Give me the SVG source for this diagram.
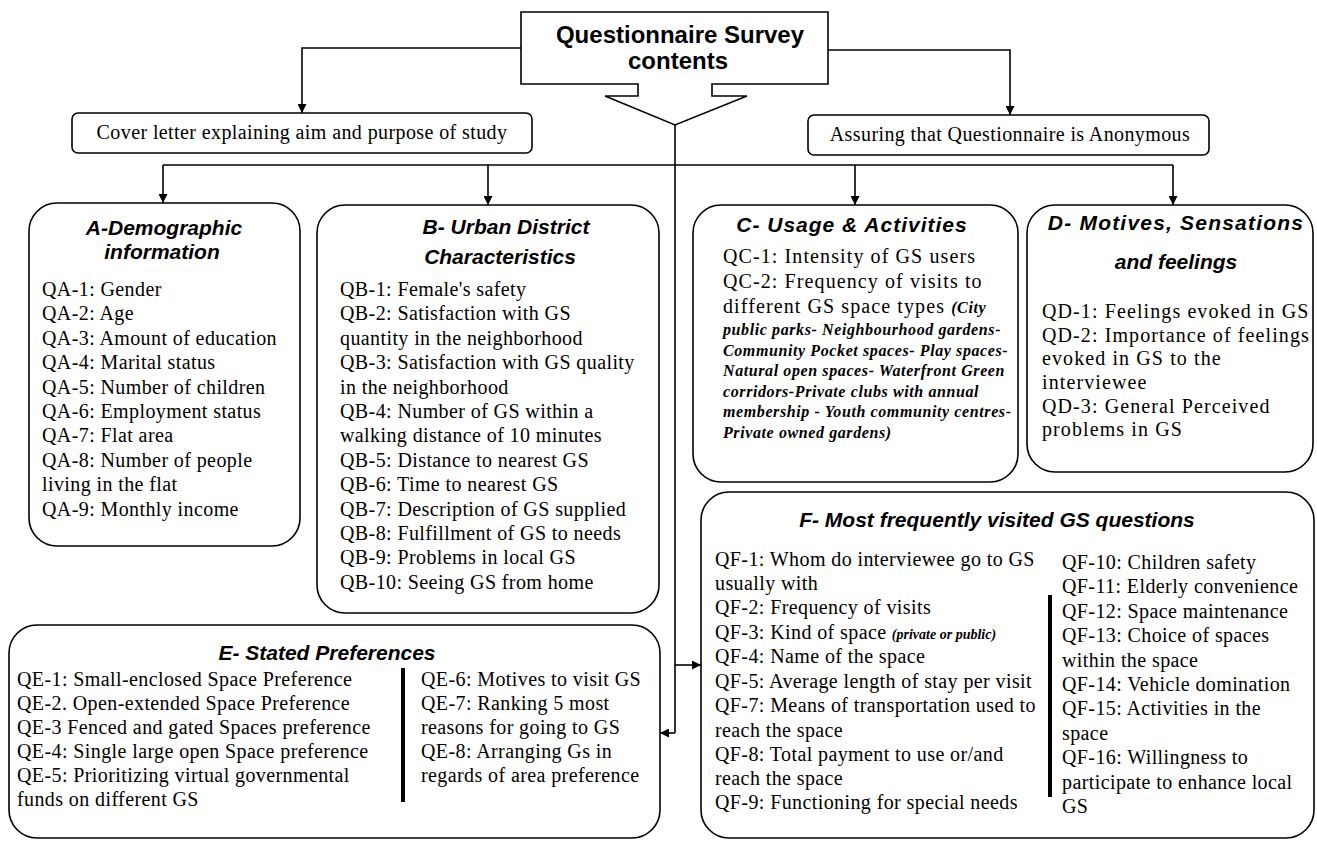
<svg xmlns="http://www.w3.org/2000/svg" width="1317" height="863" viewBox="0 0 1317 863">
  <defs>
    <marker id="arr" viewBox="0 0 10 10" refX="10" refY="5" markerWidth="9" markerHeight="9" markerUnits="userSpaceOnUse" orient="auto">
      <path d="M0,0 L10,5 L0,10 Z" fill="#000"/>
    </marker>
    <style>
      .box { fill: #fff; stroke: #000; stroke-width: 1.6; }
      .conn { fill: none; stroke: #000; stroke-width: 1.6; }
      .sep { stroke: #000; stroke-width: 4; }
      .head { font-family: "Liberation Sans", Arial, sans-serif; font-weight: bold; font-size: 24px; text-anchor: middle; }
      .ttl { font-family: "Liberation Sans", Arial, sans-serif; font-weight: bold; font-style: italic; font-size: 21px; text-anchor: middle; }
      .txt { font-family: "Liberation Serif", "Times New Roman", serif; font-size: 20px; letter-spacing: 0.4px; }
      .wide { letter-spacing: 1.1px; }
      .mid { text-anchor: middle; }
      .it { font-style: italic; font-weight: bold; font-size: 16px; letter-spacing: 0.6px; }
      .its { font-style: italic; font-weight: bold; font-size: 14px; letter-spacing: 0; }
    </style>
  </defs>
  <rect width="1317" height="863" fill="#fff"/>

  <!-- connectors -->
  <g id="connectors">
    <path class="conn" d="M521,48 H302 V113" marker-end="url(#arr)"/>
    <path class="conn" d="M828,50 H1010 V115" marker-end="url(#arr)"/>
    <path class="conn" d="M163,165 H1173"/>
    <path class="conn" d="M163,165 V203" marker-end="url(#arr)"/>
    <path class="conn" d="M488,165 V205" marker-end="url(#arr)"/>
    <path class="conn" d="M855,165 V205" marker-end="url(#arr)"/>
    <path class="conn" d="M1173,165 V205" marker-end="url(#arr)"/>
    <path class="conn" d="M675,125 V733"/>
    <path class="conn" d="M675,665 H701" marker-end="url(#arr)"/>
    <path class="conn" d="M675,733 H660" marker-end="url(#arr)"/>
  </g>

  <!-- root callout -->
  <g id="survey">
    <path class="box" d="M521,12 H828 V84 H712 V96 H747 L675,125 L605,96 H638 V84 H521 Z"/>
    <text class="head" x="680" y="43">Questionnaire Survey</text>
    <text class="head" x="678" y="69">contents</text>
  </g>

  <g id="cover">
    <rect class="box" x="72" y="113" width="460" height="40" rx="6"/>
    <text class="txt mid" x="302" y="139">Cover letter explaining aim and purpose of study</text>
  </g>

  <g id="anonymous">
    <rect class="box" x="808" y="115" width="401" height="40" rx="6"/>
    <text class="txt mid" x="1010" y="141">Assuring that Questionnaire is Anonymous</text>
  </g>

  <g id="A">
    <rect class="box" x="29" y="203" width="271" height="343" rx="28"/>
    <text class="ttl" x="164" y="235">A-Demographic</text>
    <text class="ttl" x="162" y="259">information</text>
    <text class="txt">
      <tspan x="42" y="296">QA-1: Gender</tspan>
      <tspan x="42" y="320.4">QA-2: Age</tspan>
      <tspan x="42" y="344.8">QA-3: Amount of education</tspan>
      <tspan x="42" y="369.2">QA-4: Marital status</tspan>
      <tspan x="42" y="393.6">QA-5: Number of children</tspan>
      <tspan x="42" y="418">QA-6: Employment status</tspan>
      <tspan x="42" y="442.4">QA-7: Flat area</tspan>
      <tspan x="42" y="466.8">QA-8: Number of people</tspan>
      <tspan x="42" y="491.2">living in the flat</tspan>
      <tspan x="42" y="515.6">QA-9: Monthly income</tspan>
    </text>
  </g>

  <g id="B">
    <rect class="box" x="317" y="205" width="342" height="408" rx="28"/>
    <text class="ttl" x="506" y="234">B- Urban District</text>
    <text class="ttl" x="500" y="264">Characteristics</text>
    <text class="txt">
      <tspan x="340" y="296">QB-1: Female's safety</tspan>
      <tspan x="340" y="320.4">QB-2: Satisfaction with GS</tspan>
      <tspan x="340" y="344.8">quantity in the neighborhood</tspan>
      <tspan x="340" y="369.2">QB-3: Satisfaction with GS quality</tspan>
      <tspan x="340" y="393.6">in the neighborhood</tspan>
      <tspan x="340" y="418">QB-4: Number of GS within a</tspan>
      <tspan x="340" y="442.4">walking distance of 10 minutes</tspan>
      <tspan x="340" y="466.8">QB-5: Distance to nearest GS</tspan>
      <tspan x="340" y="491.2">QB-6: Time to nearest GS</tspan>
      <tspan x="340" y="515.6">QB-7: Description of GS supplied</tspan>
      <tspan x="340" y="540">QB-8: Fulfillment of GS to needs</tspan>
      <tspan x="340" y="564.4">QB-9: Problems in local GS</tspan>
      <tspan x="340" y="588.8">QB-10: Seeing GS from home</tspan>
    </text>
  </g>

  <g id="C">
    <rect class="box" x="693" y="205" width="325" height="277" rx="28"/>
    <text class="ttl" x="852" y="232" letter-spacing="1">C- Usage &amp; Activities</text>
    <text class="txt wide">
      <tspan x="723" y="263">QC-1: Intensity of GS  users</tspan>
      <tspan x="723" y="288">QC-2: Frequency of visits to</tspan>
      <tspan x="723" y="313">different GS space types  <tspan class="it">(City</tspan></tspan>
    </text>
    <text class="txt it">
      <tspan x="723" y="335">public parks- Neighbourhood gardens-</tspan>
      <tspan x="723" y="355.5">Community Pocket spaces- Play spaces-</tspan>
      <tspan x="723" y="376">Natural open spaces- Waterfront Green</tspan>
      <tspan x="723" y="396.5">corridors-Private clubs with annual</tspan>
      <tspan x="723" y="417">membership - Youth community centres-</tspan>
      <tspan x="723" y="437.5">Private owned  gardens)</tspan>
    </text>
  </g>

  <g id="D">
    <rect class="box" x="1027" y="205" width="286" height="267" rx="28"/>
    <text class="ttl" x="1176" y="230" letter-spacing="1.2">D- Motives, Sensations</text>
    <text class="ttl" x="1176" y="269">and feelings</text>
    <text class="txt wide">
      <tspan x="1042" y="318">QD-1: Feelings evoked in GS</tspan>
      <tspan x="1042" y="341.5">QD-2: Importance of feelings</tspan>
      <tspan x="1042" y="365">evoked in GS to the</tspan>
      <tspan x="1042" y="389">interviewee</tspan>
      <tspan x="1042" y="413">QD-3: General Perceived</tspan>
      <tspan x="1042" y="436">problems in GS</tspan>
    </text>
  </g>

  <g id="E">
    <rect class="box" x="9" y="625" width="651" height="213" rx="28"/>
    <text class="ttl" x="327" y="660">E- Stated Preferences</text>
    <line class="sep" x1="403" y1="668" x2="403" y2="802"/>
    <text class="txt">
      <tspan x="17" y="686">QE-1: Small-enclosed Space Preference</tspan>
      <tspan x="17" y="710">QE-2. Open-extended Space Preference</tspan>
      <tspan x="17" y="734">QE-3 Fenced and gated Spaces preference</tspan>
      <tspan x="17" y="758">QE-4: Single large open Space preference</tspan>
      <tspan x="17" y="782">QE-5: Prioritizing virtual governmental</tspan>
      <tspan x="17" y="806">funds on different GS</tspan>
    </text>
    <text class="txt">
      <tspan x="421" y="686">QE-6: Motives to visit GS</tspan>
      <tspan x="421" y="710">QE-7: Ranking 5 most</tspan>
      <tspan x="421" y="734">reasons for going to GS</tspan>
      <tspan x="421" y="758">QE-8: Arranging Gs in</tspan>
      <tspan x="421" y="782">regards of area preference</tspan>
    </text>
  </g>

  <g id="F">
    <rect class="box" x="701" y="492" width="613" height="346" rx="28"/>
    <text class="ttl" x="997" y="527">F- Most frequently visited GS questions</text>
    <line class="sep" x1="1050" y1="595" x2="1050" y2="797"/>
    <text class="txt">
      <tspan x="715" y="566">QF-1: Whom do interviewee go to GS</tspan>
      <tspan x="715" y="590">usually with</tspan>
      <tspan x="715" y="614">QF-2: Frequency of visits</tspan>
      <tspan x="715" y="639">QF-3: Kind of space <tspan class="its">(private or public)</tspan></tspan>
      <tspan x="715" y="663">QF-4: Name of the space</tspan>
      <tspan x="715" y="688">QF-5: Average length of stay per visit</tspan>
      <tspan x="715" y="712">QF-7: Means of transportation used to</tspan>
      <tspan x="715" y="737">reach the space</tspan>
      <tspan x="715" y="761">QF-8: Total payment to use or/and</tspan>
      <tspan x="715" y="785">reach the space</tspan>
      <tspan x="715" y="809">QF-9: Functioning for special needs</tspan>
    </text>
    <text class="txt">
      <tspan x="1062" y="569">QF-10: Children safety</tspan>
      <tspan x="1062" y="593.4">QF-11: Elderly convenience</tspan>
      <tspan x="1062" y="617.8">QF-12: Space maintenance</tspan>
      <tspan x="1062" y="642.2">QF-13: Choice of spaces</tspan>
      <tspan x="1062" y="666.6">within the space</tspan>
      <tspan x="1062" y="691">QF-14: Vehicle domination</tspan>
      <tspan x="1062" y="715.4">QF-15: Activities in the</tspan>
      <tspan x="1062" y="739.8">space</tspan>
      <tspan x="1062" y="764.2">QF-16: Willingness to</tspan>
      <tspan x="1062" y="788.6">participate to enhance local</tspan>
      <tspan x="1062" y="813">GS</tspan>
    </text>
  </g>
</svg>
